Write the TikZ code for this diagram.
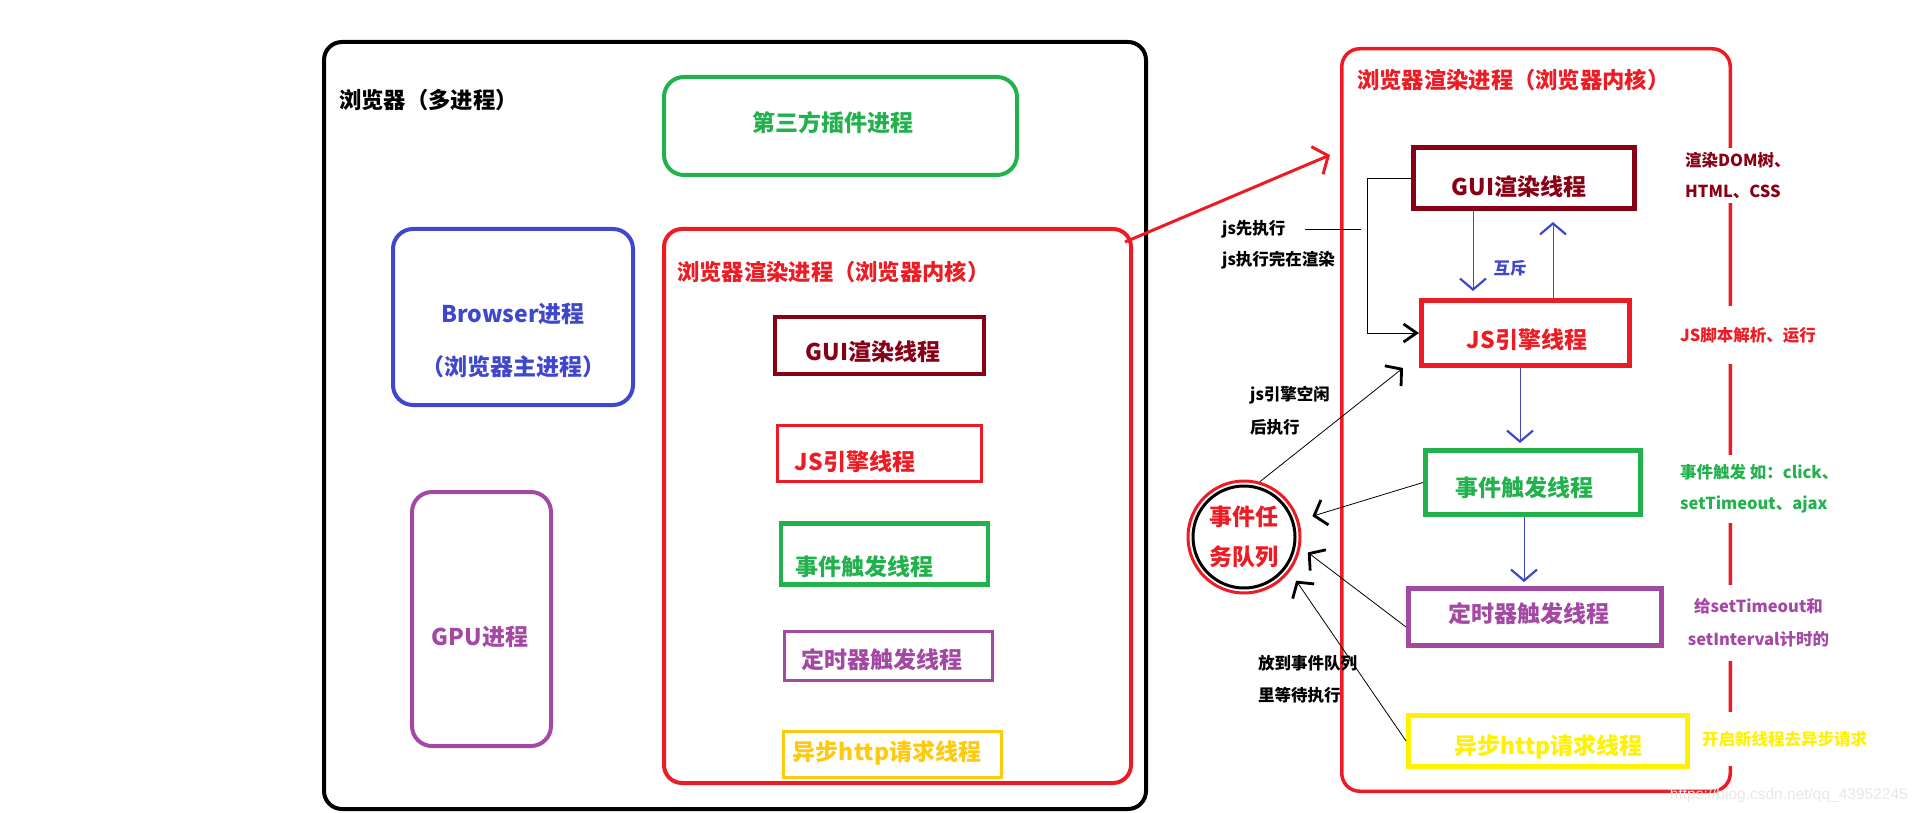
\documentclass[tikz,border=0pt]{standalone}
\usepackage{fontspec}
\setmainfont{Noto Sans CJK SC}
\newfontfamily\markfont{Liberation Sans}
\usepackage{tikz}
\usetikzlibrary{arrows.meta,calc,positioning}
\definecolor{pgreen}{RGB}{34,177,76}
\definecolor{pblue}{RGB}{63,72,204}
\definecolor{ppurple}{RGB}{163,73,164}
\definecolor{pred}{RGB}{237,28,36}
\definecolor{pdarkred}{RGB}{136,0,21}
\definecolor{pgold}{RGB}{255,201,14}
\definecolor{pyellow}{RGB}{255,242,0}

\tikzset{
  procbox/.style={draw, rounded corners=18pt, line width=4pt, inner sep=0pt},
  thread/.style={draw, line width=3pt, inner sep=0pt},
  boxlabel/.style={font=\fontsize{23}{27}\selectfont\bfseries, inner sep=1pt},
  titlelabel/.style={font=\fontsize{22.3}{26}\selectfont\bfseries, inner sep=1pt, anchor=west},
  note/.style={font=\fontsize{16.5}{31}\selectfont\bfseries, inner sep=4pt},
  link/.style={draw=black, line width=0.8pt},
  barb/.style={-{Straight Barb[length=11pt,width=26pt,line width=2.8pt]}},
  blink/.style={draw=pblue, line width=1pt, -{Straight Barb[length=11pt,width=26pt,line width=2.2pt]}},
}

\begin{document}
\begin{tikzpicture}[x=1pt,y=-1pt]
    \useasboundingbox (0,0) rectangle (1914,813);
    % browser, left part
    \node[procbox, minimum width=822pt, minimum height=767pt] (browser) at (735,425.5) {};
    \node[titlelabel] (browsertitle) at (338,100) {浏览器（多进程）};
    \node[procbox, draw=pgreen, rounded corners=20pt, minimum width=353pt, minimum height=98pt] (plugin) at (840.5,126) {};
    \node[boxlabel, text=pgreen] (plugintext) at (833,123) {第三方插件进程};
    \node[procbox, draw=pblue, rounded corners=20pt, minimum width=240pt, minimum height=176pt] (mainproc) at (513,317) {};
    \node[boxlabel, text=pblue, align=center, font=\fontsize{23}{53}\selectfont\bfseries] (mainproctext) at ([yshift=-23pt]mainproc.center) {Browser进程\\（浏览器主进程）};
    \node[procbox, draw=ppurple, rounded corners=20pt, minimum width=139pt, minimum height=254pt] (gpu) at (481.5,619) {};
    \node[boxlabel, text=ppurple] (gputext) at (480,637) {GPU进程};
    \node[procbox, draw=pred, minimum width=467pt, minimum height=554pt] (procL) at (897.5,506) {};
    \node[titlelabel, text=pred] (proctitleL) at (676,272) {浏览器渲染进程（浏览器内核）};
    \node[thread, draw=pdarkred, line width=4pt, minimum width=209pt, minimum height=57pt] (guiL) at (879.5,345.5) {};
    \node[boxlabel, text=pdarkred] (guiLtext) at (873,352) {GUI渲染线程};
    \node[thread, draw=pred, minimum width=204pt, minimum height=56pt] (jsL) at (879.5,453.5) {};
    \node[boxlabel, text=pred] (jsLtext) at (855,462) {JS引擎线程};
    \node[thread, draw=pgreen, line width=4.5pt, minimum width=207pt, minimum height=61pt] (eventL) at (884.5,554) {};
    \draw[pgreen, line width=3pt] ([yshift=-1pt]eventL.north west) -- ([yshift=-1pt]eventL.north east);
    \node[boxlabel, text=pgreen] (eventLtext) at (864,567) {事件触发线程};
    \node[thread, draw=ppurple, minimum width=208pt, minimum height=49pt] (timerL) at (888.5,656) {};
    \node[boxlabel, text=ppurple] (timerLtext) at (881.5,660) {定时器触发线程};
    \node[thread, draw=pgold, line width=3.5pt, minimum width=218pt, minimum height=46pt] (asyncL) at (892.5,754.5) {};
    \node[boxlabel, text=pgold] (asyncLtext) at (887,753) {异步http请求线程};
    % render process, right part
    \node[procbox, draw=pred, line width=3.5pt, minimum width=388.5pt, minimum height=742.5pt] (procR) at (1536,420) {};
    \node[titlelabel, text=pred] (proctitleR) at (1356,80) {浏览器渲染进程（浏览器内核）};
    \draw[draw=pred, line width=3pt, -{Straight Barb[length=12pt,width=30pt,line width=3pt]}] ($(procL.north east)+(-8,15)$) -- ($(procR.north west)+(-10,108)$);
    \node[thread, draw=pdarkred, line width=5pt, minimum width=221.5pt, minimum height=61pt] (guiR) at (1523.75,178) {};
    \node[boxlabel, text=pdarkred] (guiRtext) at (1519,187) {GUI渲染线程};
    \node[thread, draw=pred, line width=5pt, minimum width=208pt, minimum height=65pt] (jsR) at (1525.5,333) {};
    \node[boxlabel, text=pred] (jsRtext) at (1527,340) {JS引擎线程};
    \node[thread, draw=pgreen, line width=5pt, minimum width=215pt, minimum height=64pt] (eventR) at (1533,482.5) {};
    \node[boxlabel, text=pgreen] (eventRtext) at (1524,488) {事件触发线程};
    \node[thread, draw=ppurple, line width=5pt, minimum width=253pt, minimum height=57pt] (timerR) at (1535,617) {};
    \node[boxlabel, text=ppurple] (timerRtext) at (1529,614) {定时器触发线程};
    \node[thread, draw=pyellow, line width=5pt, minimum width=279pt, minimum height=51pt] (asyncR) at (1548,741) {};
    \node[boxlabel, text=pyellow] (asyncRtext) at (1548.5,747) {异步http请求线程};
    \node[circle, draw=pred, line width=3pt, minimum size=112pt, inner sep=0pt, text=pred, align=center, font=\fontsize{23}{40}\selectfont\bfseries] (queue) at (1244,537) {事件任\\务队列};
    \draw[line width=3pt] (queue.center) circle[radius=51pt];
    \coordinate (mutexL) at (1473,0);
    \coordinate (mutexR) at (1553,0);
    \coordinate (jsdown) at (1520,0);
    \coordinate (eventdown) at (1524,0);
    \draw[blink, shorten >=7pt] (guiR.south -| mutexL) -- (jsR.north -| mutexL);
    \draw[blink, shorten >=11pt] (jsR.north -| mutexR) -- (guiR.south -| mutexR);
    \node[note, text=pblue] (mutex) at (1510,268) {互斥};
    \draw[blink, shorten >=5pt] (jsR.south -| jsdown) -- (eventR.north -| jsdown);
    \draw[blink, shorten >=4pt] (eventR.south -| eventdown) -- (timerR.north -| eventdown);
    \node[note, anchor=west, inner sep=2pt] (jsfirst) at (1220,229) {js先执行};
    \node[note, anchor=west, inner sep=2pt] (jsthen) at (1220,260) {js执行完在渲染};
    \coordinate (split) at (1361,229);
    \coordinate (brk) at (1367,250);
    \draw[link] (jsfirst.east) ++(17,0) -- (split);
    \draw[link, -{Straight Barb[length=13pt,width=18pt,line width=2.8pt]}] (guiR.west) -- (guiR.west -| brk) |- (jsR.west);
    \node[note, anchor=west, align=left, inner sep=2pt, font=\fontsize{16.5}{33}\selectfont\bfseries] (idlenote) at (1248,411) {js引擎空闲\\后执行};
    \node[note, anchor=west, align=left, inner sep=2pt, font=\fontsize{16.5}{32}\selectfont\bfseries] (waitnote) at (1256,679) {放到事件队列\\里等待执行};
    \draw[link, barb] (queue.74) -- ([xshift=-16pt]jsR.south west);
    \draw[link, barb, shorten >=14pt] (eventR.west) -- (queue);
    \draw[link, barb, shorten >=9pt] ([yshift=-10pt]timerR.west) -- (queue.-10);
    \draw[link, barb, shorten >=11pt] (asyncR.west) -- (queue.-37);
    % notes on the right
    \node[note, text=pdarkred, fill=white, align=left, anchor=west] (domnote) at (1681,175.5) {渲染DOM树、\\HTML、CSS};
    \node[note, text=pred, fill=white, anchor=west, minimum height=58pt] (jsnote) at (1676,335) {JS脚本解析、运行};
    \node[note, text=pgreen, fill=white, align=left, anchor=west, minimum height=68pt] (eventnote) at (1676,489) {事件触发 如：click、\\setTimeout、ajax};
    \node[note, text=ppurple, fill=white, align=center, minimum height=76pt, font=\fontsize{16.5}{33}\selectfont\bfseries] (timernote) at (1758.5,623) {给setTimeout和\\setInterval计时的};
    \node[note, text=pyellow, fill=white, anchor=west, minimum height=54pt] (asyncnote) at (1698,739) {开启新线程去异步请求};
    \node[anchor=east, inner sep=0pt, text=gray!18, font=\markfont\fontsize{15.5}{18}\selectfont] (watermark) at (1908,795) {https://blog.csdn.net/qq\_43952245};
\end{tikzpicture}
\end{document}
